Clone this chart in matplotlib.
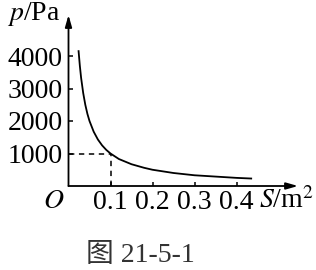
import matplotlib
matplotlib.use("Agg")
import matplotlib.pyplot as plt

# Values
S = [0.024, 0.027, 0.03, 0.035, 0.04, 0.045, 0.05, 0.06, 0.07, 0.08, 0.09, 0.1,
     0.12, 0.15, 0.18, 0.2, 0.25, 0.3, 0.35, 0.4, 0.435]
p = [4150, 3700, 3330, 2860, 2500, 2220, 2000, 1670, 1430, 1250, 1110, 1000,
     830, 670, 560, 500, 400, 330, 290, 250, 230]
x_ticks = [0.1, 0.2, 0.3, 0.4]
x_tick_labels = ["0.1", "0.2", "0.3", "0.4"]
y_ticks = [1000, 2000, 3000, 4000]
y_tick_labels = ["1000", "2000", "3000", "4000"]
mark_S, mark_p = 0.1, 1000

plt.rcParams['font.family'] = ['Liberation Serif', 'Noto Sans CJK SC']
plt.rcParams['mathtext.fontset'] = 'stix'

W, H = 316, 270
x0, y0 = 68.5, 186          # origin in pixels
px_x, px_y = 420.0, 0.0325  # pixels per unit
fig = plt.figure(figsize=(W / 100, H / 100), dpi=100)
ax = fig.add_axes([x0 / W, 1 - y0 / H, (298 - x0) / W, (y0 - 15) / H])
ax.set_xlim(0, (298 - x0) / px_x)
ax.set_ylim(0, (y0 - 15) / px_y)
for sp in ax.spines.values():
    sp.set_visible(False)

# axes with arrows
arrow = dict(arrowstyle='-|>,head_length=0.7,head_width=0.2', color='black', lw=1.3,
             shrinkA=0, shrinkB=0)
ax.annotate('', xy=(1, 0), xytext=(0, 0), xycoords='axes fraction', arrowprops=arrow)
ax.annotate('', xy=(0, 1), xytext=(0, 0), xycoords='axes fraction', arrowprops=arrow)

ax.plot(S, p, color='black', lw=1.3)
ax.plot([0, mark_S], [mark_p, mark_p], color='black', lw=1.1, ls=(0, (3.5, 3)))
ax.plot([mark_S, mark_S], [0, mark_p], color='black', lw=1.1, ls=(0, (3.5, 3)))

fs = 20
ax.set_xticks(x_ticks)
ax.set_xticklabels(x_tick_labels, fontsize=fs)
ax.set_yticks(y_ticks)
ax.set_yticklabels(y_tick_labels, fontsize=fs)
ax.tick_params(direction='in', length=3, width=1.1)
ax.tick_params(axis='x', pad=3)
ax.tick_params(axis='y', pad=4)

fig.text(34 / W, 1 - 14 / H, '$p$/Pa', fontsize=fs, ha='center', va='center')
fig.text(54 / W, 1 - 202 / H, '$O$', fontsize=fs, ha='center', va='center')
fig.text(314 / W, 1 - 201 / H, '$S$/m$^2$', fontsize=fs, ha='right', va='center')
fig.text(140 / W, 1 - 255 / H, '图 21-5-1', fontsize=fs, ha='center', va='center',
         color='#333333')

fig.savefig('out.png', dpi=100, facecolor='white')
